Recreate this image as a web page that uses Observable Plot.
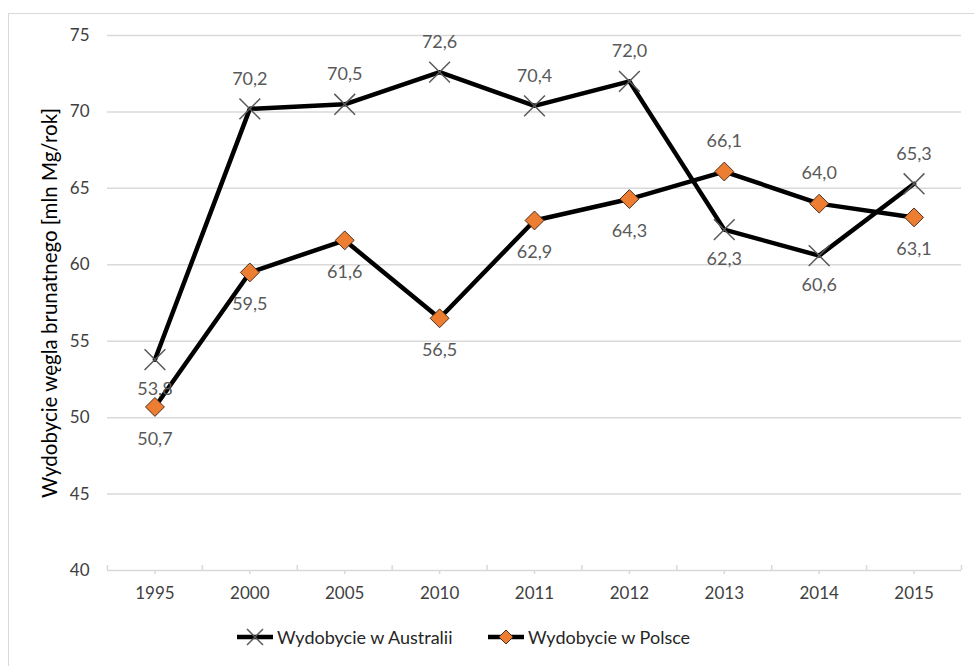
<!DOCTYPE html>
<html>
<head>
<meta charset="utf-8">
<script src="https://cdn.jsdelivr.net/npm/d3@7"></script>
<script src="https://cdn.jsdelivr.net/npm/@observablehq/plot@0.6"></script>
<style>
  html, body { margin: 0; padding: 0; background: #fff; }
  body { width: 974px; height: 666px; position: relative; overflow: hidden; font-family: Lato, "Open Sans", sans-serif; }
  #frame { position: absolute; left: 8px; top: 13px; width: 990px; height: 680px; border-left: 1px solid #d9d9d9; border-top: 1px solid #d9d9d9; box-sizing: border-box; }
  #chart { position: absolute; left: 0; top: 0; }
  .legend-item { position: absolute; top: 626px; display: flex; align-items: center; font-size: 18px; color: #262626; }
  .legend-item svg { margin-right: 3px; }
</style>
</head>
<body>
<div id="frame"></div>
<div id="chart"></div>
<div class="legend-item" id="leg-au" style="left:236px"></div>
<div class="legend-item" id="leg-pl" style="left:487px"></div>
<script>
// ---- data ----
const years = ["1995", "2000", "2005", "2010", "2011", "2012", "2013", "2014", "2015"];
const australia = [53.8, 70.2, 70.5, 72.6, 70.4, 72.0, 62.3, 60.6, 65.3];
const poland = [50.7, 59.5, 61.6, 56.5, 62.9, 64.3, 66.1, 64.0, 63.1];
const australiaLabelAbove = [false, true, true, true, true, true, false, false, true];
const polandLabelAbove = [false, false, false, false, false, false, true, true, false];
const yTicks = [40, 45, 50, 55, 60, 65, 70, 75];
const seriesNames = ["Wydobycie w Australii", "Wydobycie w Polsce"];
const yLabel = "Wydobycie węgla brunatnego [mln Mg/rok]";

const fmt = v => d3.format(".1f")(v).replace(".", ",");
const au = years.map((y, i) => ({i, year: y, value: australia[i], above: australiaLabelAbove[i]}));
const pl = years.map((y, i) => ({i, year: y, value: poland[i], above: polandLabelAbove[i]}));
const idx = years.map((_, i) => i);
const boundaries = d3.range(years.length + 1).map(k => k - 0.5);

const orange = "#ED7D31";
const textGray = "#595959";
const axisGray = "#404040";
const grid = "#d9d9d9";

const chart = Plot.plot({
  width: 974,
  height: 615,
  marginLeft: 107,
  marginRight: 13,
  marginTop: 35,
  marginBottom: 45,
  style: {fontFamily: "Lato, 'Open Sans', sans-serif", background: "transparent"},
  x: {type: "linear", domain: [-0.5, years.length - 0.5]},
  y: {domain: [40, 75]},
  marks: [
    Plot.gridY(yTicks.filter(t => t > 40), {stroke: grid, strokeOpacity: 1, strokeWidth: 1.5}),
    Plot.ruleY([40], {stroke: grid, strokeWidth: 1.5}),
    Plot.ruleX(boundaries, {x: d => d, y1: 40, y2: 40 + 5 / 15.3, stroke: grid, strokeWidth: 1.5}),
    Plot.axisY(yTicks, {tickSize: 0, tickPadding: 18, fontSize: 17, color: axisGray, label: null}),
    Plot.axisX(idx, {tickSize: 4, stroke: grid, strokeWidth: 1.5, tickPadding: 12, fontSize: 17, color: axisGray, tickFormat: i => years[i], label: null}),
    Plot.text([yLabel], {frameAnchor: "left", textAnchor: "middle", rotate: -90, dx: -57, fontSize: 20.5, fill: "#000"}),
    Plot.line(au, {x: "i", y: "value", stroke: "#000", strokeWidth: 4.5}),
    Plot.line(pl, {x: "i", y: "value", stroke: "#000", strokeWidth: 4.5}),
    Plot.dot(au, {x: "i", y: "value", symbol: "times", r: 9.5, stroke: "#595959", strokeWidth: 1.5}),
    Plot.dot(pl, {x: "i", y: "value", symbol: "diamond2", r: 8.5, fill: orange, stroke: "#4a3020", strokeWidth: 1}),
    Plot.text(au, {filter: d => d.above, x: "i", y: "value", text: d => fmt(d.value), dy: -30, fontSize: 18, fill: textGray}),
    Plot.text(au, {filter: d => !d.above, x: "i", y: "value", text: d => fmt(d.value), dy: 30, fontSize: 18, fill: textGray}),
    Plot.text(pl, {filter: d => d.above, x: "i", y: "value", text: d => fmt(d.value), dy: -30, fontSize: 18, fill: textGray}),
    Plot.text(pl, {filter: d => !d.above, x: "i", y: "value", text: d => fmt(d.value), dy: 32, fontSize: 18, fill: textGray})
  ]
});
document.getElementById("chart").appendChild(chart);

// ---- legend ----
function legendSymbol(kind) {
  const s = d3.create("svg").attr("width", 38).attr("height", 22);
  s.append("line").attr("x1", 1).attr("x2", 37).attr("y1", 11).attr("y2", 11).attr("stroke", "#000").attr("stroke-width", 4.5);
  if (kind === "times") {
    s.append("path").attr("d", "M11,3L27,19M11,19L27,3").attr("stroke", "#595959").attr("stroke-width", 1.5).attr("fill", "none");
  } else {
    s.append("path").attr("d", "M19,4L26,11L19,18L12,11Z").attr("fill", orange).attr("stroke", "#4a3020").attr("stroke-width", 1);
  }
  return s.node();
}
const legAu = document.getElementById("leg-au");
legAu.appendChild(legendSymbol("times"));
legAu.appendChild(document.createTextNode(seriesNames[0]));
const legPl = document.getElementById("leg-pl");
legPl.appendChild(legendSymbol("diamond"));
legPl.appendChild(document.createTextNode(seriesNames[1]));
</script>
</body>
</html>
